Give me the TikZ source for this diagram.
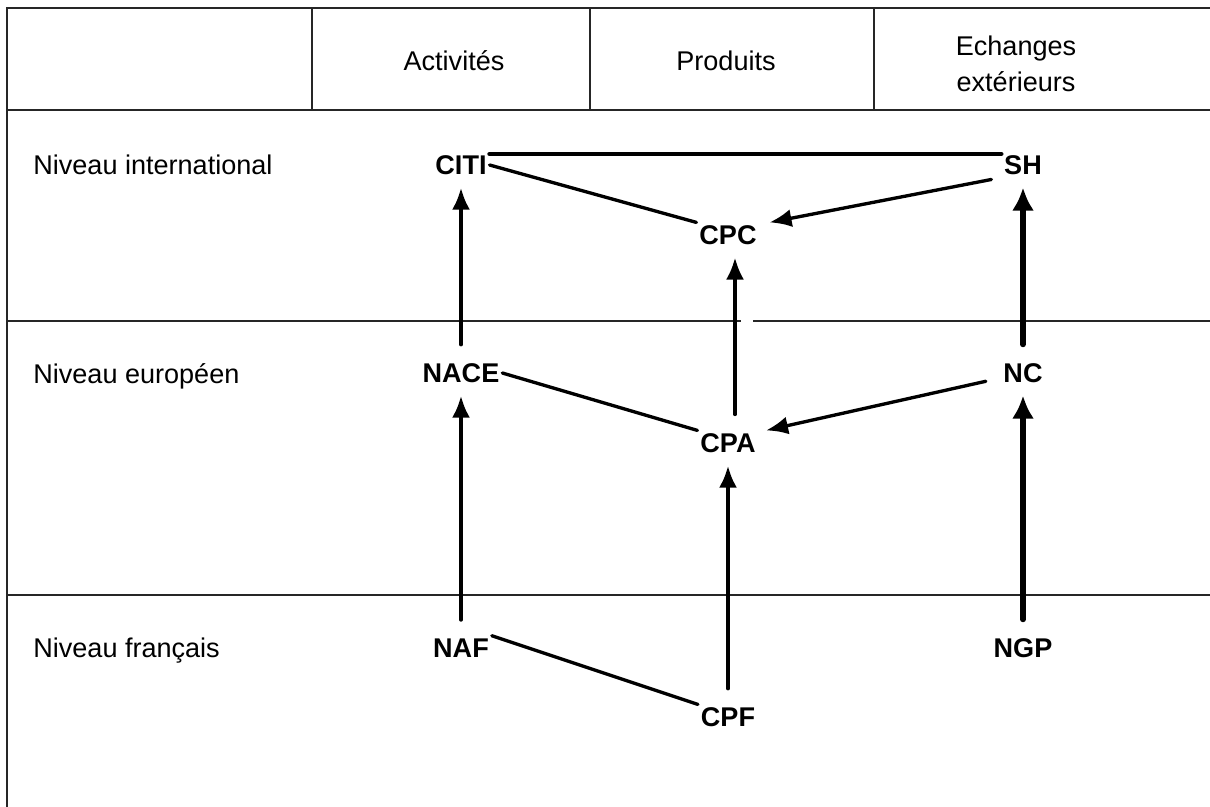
\documentclass[tikz,border=0pt]{standalone}
\usepackage{fontspec}
\setmainfont{Liberation Sans}
\usetikzlibrary{arrows.meta}

\begin{document}
\begin{tikzpicture}[x=0.02cm,y=-0.02cm,>={Latex[length=0.44cm,width=0.36cm]},
   every node/.style={font=\fontsize{15.4}{20.4}\selectfont},
   code/.style={font=\fontsize{15.4}{20.4}\selectfont\bfseries,inner sep=0.06cm,outer sep=0pt},
   level/.style={anchor=base west,inner sep=0pt},
   frame/.style={line width=1.1pt,black!85},
   link/.style={line width=1.9pt,line cap=round},
   up/.style={->,line width=2.3pt,line cap=round,shorten <=0.32cm,shorten >=0.2cm}]
   \useasboundingbox (0,0) rectangle (1210,807);
   % table
   \draw[frame] (1210,8) -- (7,8) -- (7,807);
   \draw[frame] (7,110) -- (1210,110);
   \draw[frame] (7,321) -- (741,321) (753,321) -- (1210,321);
   \draw[frame] (7,595) -- (1210,595);
   \draw[frame] (312,8) -- (312,110) (590,8) -- (590,110) (874,8) -- (874,110);

   \node (act) at (454,61) {Activités};
   \node (prod) at (726,61) {Produits};
   \node [align=center] (ech) at (1016,64) {Echanges\\extérieurs};

   \node [level] (intl) at (33,175) {Niveau international};
   \node [level] (eur) at (33,383) {Niveau européen};
   \node [level] (fr) at (33,657) {Niveau français};

   \node [code] (CITI) at (461,165) {CITI};
   \node [code] (SH) at (1023,165) {SH};
   \node [code] (CPC) at (728,235) {CPC};
   \node [code] (NACE) at (461,373) {NACE};
   \node [code] (NC) at (1023,373) {NC};
   \node [code] (CPA) at (728,443) {CPA};
   \node [code] (NAF) at (461,648) {NAF};
   \node [code] (NGP) at (1023,648) {NGP};
   \node [code] (CPF) at (728,717) {CPF};

   \draw [link,line width=2.6pt] ([yshift=0.22cm]CITI.east) -- ([yshift=0.22cm]SH.west);
   \draw [link] (CITI.east) -- (CPC.north west);
   \draw [link,->,shorten <=0.2cm] (SH.south west) -- ([xshift=0.2cm]CPC.north east);
   \draw [link] (NACE.east) -- (CPA.north west);
   \draw [link,->,shorten <=0.3cm] ([yshift=-0.1cm]NC.west) -- ([xshift=0.15cm]CPA.north east);
   \draw [link] (NAF.north east) -- (CPF.north west);

   \draw [up] (NACE) -- (CITI);
   \draw [up] (NAF) -- (NACE);
   \draw [up,line width=2pt] ([xshift=0.14cm]CPA.north) -- ([xshift=0.14cm]CPC.south);
   \draw [up] (CPF) -- (CPA);
   \draw [up,line width=3.2pt,>={Latex[length=0.46cm,width=0.44cm]}] (NC) -- (SH);
   \draw [up,line width=3.2pt,>={Latex[length=0.46cm,width=0.44cm]}] (NGP) -- (NC);
\end{tikzpicture}
\end{document}
